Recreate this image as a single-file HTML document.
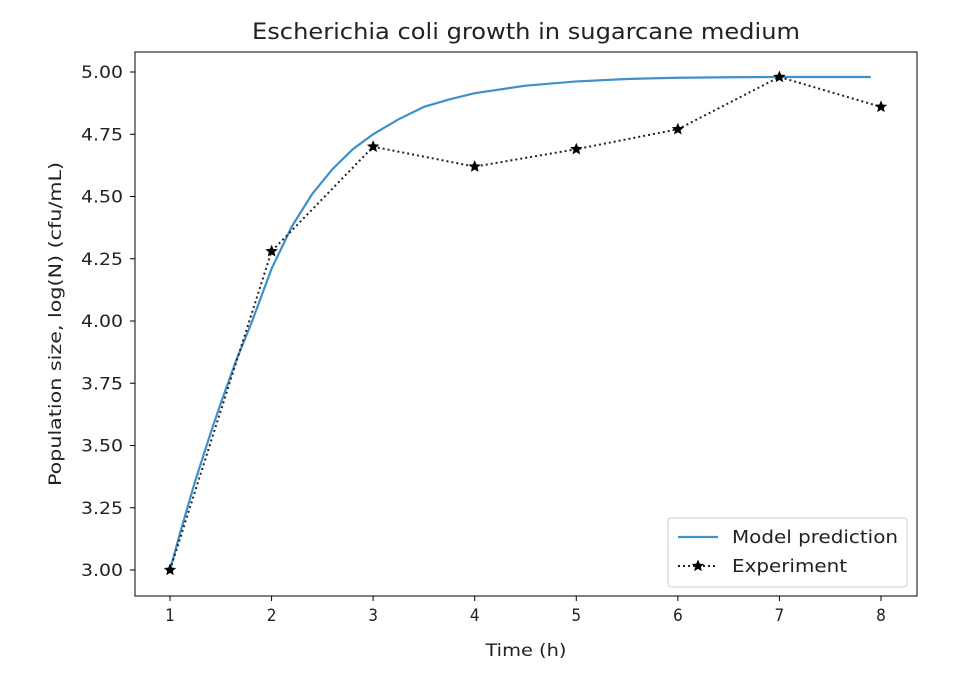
<!DOCTYPE html>
<html><head><meta charset="utf-8"><style>
body{margin:0;background:#fff;}
svg text{font-family:"DejaVu Sans Condensed","Liberation Sans",sans-serif;fill:#222;}
</style></head><body>
<svg id="chart" width="970" height="682" xmlns="http://www.w3.org/2000/svg"></svg>
<script>
const expX=[1,2,3,4,5,6,7,8];
const expY=[3.00,4.28,4.70,4.62,4.69,4.77,4.98,4.86];
const modelX=[1,1.1,1.25,1.4,1.5,1.65,1.8,2,2.2,2.4,2.6,2.8,3,3.25,3.5,3.75,4,4.5,5,5.5,6,6.5,7,7.5,7.9];
const modelY=[3.00,3.15,3.36,3.55,3.67,3.84,3.99,4.21,4.38,4.51,4.61,4.69,4.75,4.81,4.86,4.89,4.915,4.945,4.962,4.972,4.977,4.979,4.98,4.98,4.98];
const xTicks=[1,2,3,4,5,6,7,8];
const yTicks=[3.00,3.25,3.50,3.75,4.00,4.25,4.50,4.75,5.00];
const L=135,R=917,T=52,B=596;
const sx=v=>170+(v-1)*(881-170)/7;
const sy=v=>570-(v-3)*(570-72)/2;
const svg=document.getElementById('chart');
const NS='http://www.w3.org/2000/svg';
function mk(tag,attrs,parent){const e=document.createElementNS(NS,tag);for(const k in attrs)e.setAttribute(k,attrs[k]);(parent||svg).appendChild(e);return e;}
let t=mk('text',{x:526,y:39,'text-anchor':'middle','font-size':'22',textLength:548,lengthAdjust:'spacingAndGlyphs'});t.textContent='Escherichia coli growth in sugarcane medium';


xTicks.forEach(v=>{
 const l=mk('line',{x1:sx(v),x2:sx(v),y1:B,y2:B+5,stroke:'#000','stroke-width':1});
 
 
 const tx=mk('text',{x:sx(v),y:B+25,'text-anchor':'middle','font-size':'17'});tx.textContent=v;
 
 
});
yTicks.forEach(v=>{
 const l=mk('line',{x1:L-5,x2:L,y1:sy(v),y2:sy(v),stroke:'#000','stroke-width':1});
 
 
 const tx=mk('text',{x:L-12,y:sy(v)+6,'text-anchor':'end','font-size':'17',textLength:42,lengthAdjust:'spacingAndGlyphs'});tx.textContent=v.toFixed(2);
 
 
});
t=mk('text',{x:526,y:656,'text-anchor':'middle','font-size':'17',textLength:81,lengthAdjust:'spacingAndGlyphs'});t.textContent='Time (h)';


t=mk('text',{x:0,y:0,'text-anchor':'middle','font-size':'17',textLength:324,lengthAdjust:'spacingAndGlyphs',transform:'translate(61,324) rotate(-90)'});t.textContent='Population size,  log(N) (cfu/mL)';


const mp=mk('polyline',{points:modelX.map((x,i)=>sx(x)+','+sy(modelY[i])).join(' '),fill:'none',stroke:'#3f8fcb','stroke-width':2.2,'stroke-linejoin':'round'});


const ep=mk('polyline',{points:expX.map((x,i)=>sx(x)+','+sy(expY[i])).join(' '),fill:'none',stroke:'#222','stroke-width':2,'stroke-dasharray':'2,3'});


function star(cx,cy,r){let p=[];for(let i=0;i<10;i++){const a=-Math.PI/2+i*Math.PI/5,rr=i%2?r*0.45:r;p.push((cx+rr*Math.cos(a)).toFixed(1)+','+(cy+rr*Math.sin(a)).toFixed(1));}return p.join(' ');}
expX.forEach((x,i)=>{
 const s=mk('polygon',{points:star(sx(x),sy(expY[i]),6.5),fill:'#000'});
 
 
});
const fr=mk('rect',{x:L,y:T,width:R-L,height:B-T,fill:'none',stroke:'#000','stroke-width':1});


const lg=mk('g',{});


mk('rect',{x:668,y:518,width:239,height:69,rx:3,fill:'#fff',stroke:'#ccc'},lg);
mk('line',{x1:678,x2:718,y1:537,y2:537,stroke:'#3f8fcb','stroke-width':2.2},lg);
t=mk('text',{x:732,y:543,'font-size':'18',textLength:166,lengthAdjust:'spacingAndGlyphs'},lg);t.textContent='Model prediction';


mk('line',{x1:678,x2:718,y1:566,y2:566,stroke:'#222','stroke-width':2,'stroke-dasharray':'2,3'},lg);
mk('polygon',{points:star(698,566,6.5),fill:'#000'},lg);
t=mk('text',{x:732,y:572,'font-size':'18',textLength:115,lengthAdjust:'spacingAndGlyphs'},lg);t.textContent='Experiment';


</script>
</body></html>
